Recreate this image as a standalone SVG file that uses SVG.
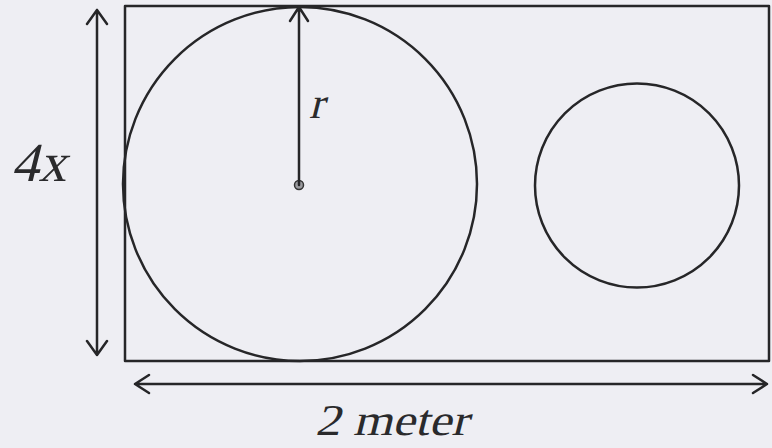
<svg xmlns="http://www.w3.org/2000/svg" width="772" height="448" viewBox="0 0 772 448">
  <defs>
    <style>
      .ln { fill: none; stroke: #262628; stroke-width: 2.5; stroke-linecap: round; stroke-linejoin: round; }
      .lbl { font-family: 'Liberation Serif', 'Times New Roman', serif; font-style: normal; fill: #2a2a2c; }
    </style>
  </defs>
  <rect width="772" height="448" fill="#eeeef3"/>
  <g id="frame">
    <rect class="ln" x="125" y="6" width="644" height="355"/>
  </g>
  <g id="big-circle">
    <circle class="ln" cx="300" cy="184" r="177"/>
    <circle cx="299" cy="185" r="4.5" fill="#9a9a9e" stroke="#333" stroke-width="1.5"/>
  </g>
  <g id="small-circle">
    <circle class="ln" cx="637" cy="185.5" r="102"/>
  </g>
  <g id="connectors">
    <path class="ln" d="M97 10 V355 M87 24 L97 10 L107 24 M87 341 L97 355 L107 341"/>
    <path class="ln" d="M299 185 V7 M290 21 L299 7 L308 21"/>
    <path class="ln" d="M135 384 H767 M149 375 L135 384 L149 393 M753 375 L767 384 L753 393"/>
  </g>
  <g id="labels">
    <text class="lbl" transform="translate(11 181) skewX(-14)" font-size="55">4x</text>
    <text class="lbl" transform="translate(309 118) skewX(-14)" font-size="44">r</text>
    <text class="lbl" transform="translate(315 435) skewX(-14)" font-size="44" textLength="153" lengthAdjust="spacingAndGlyphs">2 meter</text>
  </g>
</svg>
